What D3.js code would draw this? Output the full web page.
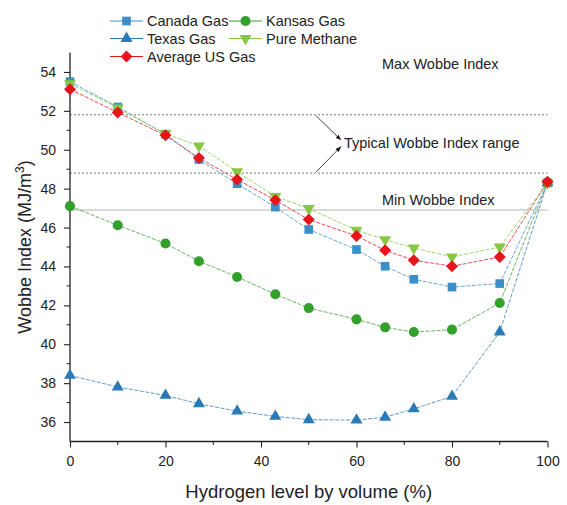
<!DOCTYPE html>
<html>
<head>
<meta charset="utf-8">
<script src="https://cdn.jsdelivr.net/npm/d3@7"></script>
<style>
  html, body { margin: 0; padding: 0; background: #fff; }
  svg { display: block; font-family: "Liberation Sans", Arial, sans-serif; }
</style>
</head>
<body>
<svg id="chart" width="567" height="505"></svg>
<script>
// ---- data ----
const hydrogen = [0, 10, 20, 27, 35, 43, 50, 60, 66, 72, 80, 90, 100];
const canadaGas = [53.5, 52.2, 50.8, 49.5, 48.25, 47.05, 45.9, 44.87, 44.01, 43.34, 42.94, 43.12, 48.3];
const texasGas = [38.4, 37.8, 37.37, 36.94, 36.56, 36.29, 36.12, 36.1, 36.25, 36.68, 37.32, 40.63, 48.3];
const kansasGas = [47.1, 46.12, 45.18, 44.27, 43.46, 42.57, 41.86, 41.28, 40.87, 40.63, 40.75, 42.12, 48.3];
const pureMethane = [53.4, 52.15, 50.82, 50.2, 48.87, 47.6, 46.98, 45.86, 45.38, 44.95, 44.49, 45.0, 48.3];
const averageUSGas = [53.11, 51.92, 50.74, 49.58, 48.47, 47.41, 46.41, 45.57, 44.83, 44.32, 44.01, 44.49, 48.35];
const xTicks = [0, 20, 40, 60, 80, 100];
const yTicks = [36, 38, 40, 42, 44, 46, 48, 50, 52, 54];
const typicalRange = [51.8, 48.8];
const minWobbe = 46.9;

// ---- layout ----
const svg = d3.select("#chart");
const mLeft = 70, mRight = 547.5, mTop = 52.5, mBottom = 441.5;
const x = d3.scaleLinear().domain([0, 100]).range([mLeft, mRight]);
const y = d3.scaleLinear().domain([35, 55]).range([mBottom, mTop]);
const textColor = "#222";

// reference lines
svg.selectAll("line.range").data(typicalRange).enter().append("line")
  .attr("x1", x(0)).attr("x2", x(100))
  .attr("y1", d => y(d)).attr("y2", d => y(d))
  .attr("stroke", "#777").attr("stroke-width", 1).attr("stroke-dasharray", "2,2");
svg.append("line")
  .attr("x1", x(0)).attr("x2", x(100))
  .attr("y1", y(minWobbe)).attr("y2", y(minWobbe))
  .attr("stroke", "#b5b5b5").attr("stroke-width", 1);

// axes
const xAxis = d3.axisBottom(x).tickValues(xTicks).tickSize(6).tickSizeOuter(0).tickPadding(9);
const yAxis = d3.axisLeft(y).tickValues(yTicks).tickSize(6).tickSizeOuter(0).tickPadding(8);
const gx = svg.append("g").attr("transform", `translate(0,${mBottom})`).call(xAxis);
const gy = svg.append("g").attr("transform", `translate(${mLeft},0)`).call(yAxis);
// minor ticks
gx.selectAll("line.minor").data(d3.range(10, 100, 20)).enter().append("line")
  .attr("class", "minor").attr("x1", d => x(d)).attr("x2", d => x(d))
  .attr("y1", 0).attr("y2", 3.5).attr("stroke", "#222");
gy.selectAll("line.minor").data(d3.range(37, 55, 2)).enter().append("line")
  .attr("class", "minor").attr("y1", d => y(d)).attr("y2", d => y(d))
  .attr("x1", 0).attr("x2", -3.5).attr("stroke", "#222");
[gx, gy].forEach(g => {
  g.select(".domain").attr("stroke", "#222").attr("stroke-width", 1.3);
  g.selectAll(".tick line").attr("stroke", "#222").attr("stroke-width", 1.1);
  g.selectAll(".tick text").attr("fill", textColor).style("font-size", "14px")
    .style("font-family", '"Liberation Sans", Arial, sans-serif');
});
gy.select(".domain").attr("d", `M0,${mBottom}V${mTop}`);
gx.select(".domain").attr("d", `M${mLeft},0H${mRight}`);

// axis titles
svg.append("text").attr("x", (mLeft + mRight) / 2).attr("y", 498)
  .attr("text-anchor", "middle").attr("fill", textColor).style("font-size", "18.5px")
  .text("Hydrogen level by volume (%)");
const yt = svg.append("text").attr("transform", `translate(31,${(mTop + mBottom) / 2}) rotate(-90)`)
  .attr("text-anchor", "middle").attr("fill", textColor).style("font-size", "18px");
yt.append("tspan").text("Wobbe Index (MJ/m");
yt.append("tspan").attr("dy", -7).style("font-size", "12px").text("3");
yt.append("tspan").attr("dy", 7).text(")");

// series
const series = [
  { name: "Canada Gas", values: canadaGas, color: "#3b8fc8", symbol: d3.symbolSquare, size: 75, rot: 0 },
  { name: "Texas Gas", values: texasGas, color: "#2a7ab8", symbol: d3.symbolTriangle, size: 62, rot: 0 },
  { name: "Kansas Gas", values: kansasGas, color: "#33a02c", symbol: d3.symbolCircle, size: 80, rot: 0 },
  { name: "Pure Methane", values: pureMethane, color: "#86c940", symbol: d3.symbolTriangle, size: 62, rot: 180 },
  { name: "Average US Gas", values: averageUSGas, color: "#e8141c", symbol: d3.symbolSquare, size: 72, rot: 45 }
];

const line = d3.line().x(d => x(d[0])).y(d => y(d[1]));
series.forEach(s => {
  const pts = hydrogen.map((h, i) => [h, s.values[i]]);
  svg.append("path").datum(pts).attr("d", line)
    .attr("fill", "none").attr("stroke", s.color).attr("stroke-width", 0.9)
    .attr("stroke-dasharray", "4,1.5").attr("opacity", 0.85);
});
series.forEach(s => {
  const pts = hydrogen.map((h, i) => [h, s.values[i]]);
  svg.append("g").selectAll("path").data(pts).enter().append("path")
    .attr("d", d3.symbol().type(s.symbol).size(s.size))
    .attr("transform", d => `translate(${x(d[0])},${y(d[1])}) rotate(${s.rot})`)
    .attr("fill", s.color);
});

// legend
const legendPos = [
  { s: 0, lx: 110, ly: 21 }, { s: 2, lx: 229, ly: 21 },
  { s: 1, lx: 110, ly: 38.5 }, { s: 3, lx: 229, ly: 38.5 },
  { s: 4, lx: 110, ly: 56.5 }
];
legendPos.forEach(p => {
  const s = series[p.s];
  const g = svg.append("g");
  g.append("line").attr("x1", p.lx).attr("x2", p.lx + 33).attr("y1", p.ly).attr("y2", p.ly)
    .attr("stroke", s.color).attr("stroke-width", 1);
  g.append("path").attr("d", d3.symbol().type(s.symbol).size(s.size))
    .attr("transform", `translate(${p.lx + 16.5},${p.ly}) rotate(${s.rot})`).attr("fill", s.color);
  g.append("text").attr("x", p.lx + 37).attr("y", p.ly + 5).attr("fill", textColor)
    .style("font-size", "14.5px").text(s.name);
});

// annotations
svg.append("defs").append("marker").attr("id", "arrow")
  .attr("viewBox", "0 0 10 10").attr("refX", 10).attr("refY", 5)
  .attr("markerWidth", 7).attr("markerHeight", 7).attr("orient", "auto")
  .append("path").attr("d", "M0,1L10,5L0,9z").attr("fill", "#111");
svg.append("line").attr("x1", 316).attr("y1", y(typicalRange[0]) + 1).attr("x2", 341).attr("y2", 140)
  .attr("stroke", "#111").attr("stroke-width", 0.8).attr("marker-end", "url(#arrow)");
svg.append("line").attr("x1", 316).attr("y1", y(typicalRange[1]) - 1).attr("x2", 341).attr("y2", 146.5)
  .attr("stroke", "#111").attr("stroke-width", 0.8).attr("marker-end", "url(#arrow)");
const ann = [
  { t: "Max Wobbe Index", x: 382, y: 69 },
  { t: "Typical Wobbe Index range", x: 344, y: 148 },
  { t: "Min Wobbe Index", x: 382, y: 205 }
];
svg.selectAll("text.ann").data(ann).enter().append("text").attr("class", "ann")
  .attr("x", d => d.x).attr("y", d => d.y).attr("fill", textColor)
  .style("font-size", "14.5px").text(d => d.t);
</script>
</body>
</html>
